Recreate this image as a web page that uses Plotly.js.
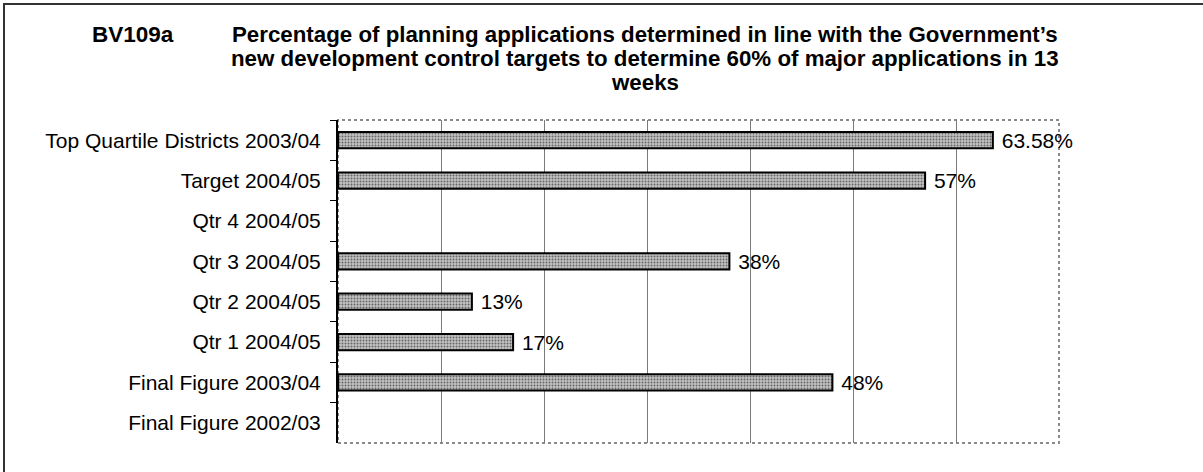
<!DOCTYPE html>
<html>
<head>
<meta charset="utf-8">
<script src="https://cdn.plot.ly/plotly-3.0.1.min.js"></script>
<style>
  html, body { margin: 0; padding: 0; background: #fff; overflow: hidden; }
  #chart { position: absolute; left: 3px; top: 3px; width: 1200px; height: 469px; box-sizing: border-box; border-top: 2px solid #333; border-left: 2px solid #333; }
</style>
</head>
<body>
<div id="chart"></div>
<script>
const categories = [
  "Top Quartile Districts 2003/04",
  "Target 2004/05",
  "Qtr 4 2004/05",
  "Qtr 3 2004/05",
  "Qtr 2 2004/05",
  "Qtr 1 2004/05",
  "Final Figure 2003/04",
  "Final Figure 2002/03"
];
const values = [63.58, 57, null, 38, 13, 17, 48, null];
const valueLabels = values.map(v => v === null ? "" : " " + v + "%");
const chartId = "BV109a";
const titleLines = [
  "Percentage of planning applications determined in line with the Government\u2019s",
  "new development control targets to determine 60% of major applications in 13",
  "weeks"
];

const FONT = "Liberation Sans, Arial, sans-serif";

const trace = {
  type: "bar",
  orientation: "h",
  y: categories,
  x: values,
  width: 0.4,
  text: valueLabels,
  textposition: "outside",
  constraintext: "none",
  cliponaxis: false,
  textfont: { family: FONT, size: 21, color: "#000" },
  outsidetextfont: { family: FONT, size: 21, color: "#000" },
  marker: {
    color: "#b4b4b4",
    line: { color: "#000", width: 2 },
    pattern: { shape: ".", fgcolor: "#666666", bgcolor: "#c4c4c4", size: 3, solidity: 0.35 }
  },
  hoverinfo: "none"
};

const titleAnnotations = titleLines.map((line, i) => ({
  text: "<b>" + line + "</b>", xref: "paper", yref: "paper", x: 0.4258, y: 1,
  xanchor: "center", yanchor: "middle", yshift: 86 - 24 * i, showarrow: false,
  font: { family: FONT, size: 22.3, color: "#000" }
}));

const layout = {
  width: 1198, height: 467,
  margin: { l: 333, r: 144, t: 115, b: 29, pad: 0 },
  paper_bgcolor: "#fff",
  plot_bgcolor: "#fff",
  showlegend: false,
  font: { family: FONT, size: 21, color: "#000" },
  xaxis: {
    range: [0, 70],
    dtick: 10,
    showticklabels: false,
    ticks: "",
    showgrid: true,
    gridcolor: "#7a7a7a",
    gridwidth: 1,
    zeroline: false,
    showline: false,
    fixedrange: true
  },
  yaxis: {
    type: "category",
    autorange: "reversed",
    showline: true,
    linecolor: "#000",
    linewidth: 2,
    ticks: "outside",
    tickson: "boundaries",
    ticklen: 6,
    tickwidth: 1,
    tickcolor: "#000",
    ticklabelstandoff: 11,
    showgrid: false,
    zeroline: false,
    tickfont: { family: FONT, size: 21, color: "#000" },
    fixedrange: true
  },
  shapes: [
    { type: "rect", xref: "paper", yref: "paper", x0: 0, x1: 1, y0: 0, y1: 1,
      line: { color: "#8a8a8a", width: 2, dash: "dot" }, layer: "below" }
  ],
  annotations: [
    { text: "<b>" + chartId + "</b>", xref: "paper", yref: "paper", x: -0.2843, y: 1,
      xanchor: "center", yanchor: "middle", yshift: 86, showarrow: false,
      font: { family: FONT, size: 22.5, color: "#000" } }
  ].concat(titleAnnotations)
};

Plotly.newPlot("chart", [trace], layout, { displayModeBar: false, staticPlot: true });
</script>
</body>
</html>
